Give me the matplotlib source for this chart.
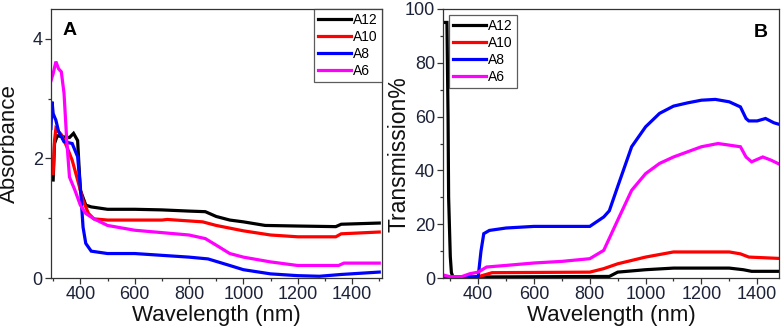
import matplotlib
matplotlib.use("Agg")
import matplotlib.pyplot as plt
from matplotlib.ticker import MultipleLocator

plt.rcParams['font.family'] = ['Liberation Sans', 'DejaVu Sans']

labels = ["A12", "A10", "A8", "A6"]
colors = ["#000000", "#ff0000", "#0000ff", "#ff00ff"]

# Panel A: absorbance
a12_x = [300, 305, 315, 340, 360, 375, 390, 400, 420, 440, 500, 600, 700, 800, 860, 900, 950, 1000, 1080, 1200, 1340, 1360, 1500]
a12_y = [1.64, 2.25, 2.38, 2.36, 2.35, 2.42, 2.3, 1.47, 1.22, 1.19, 1.15, 1.15, 1.14, 1.12, 1.11, 1.03, 0.97, 0.94, 0.88, 0.87, 0.86, 0.9, 0.92]
a10_x = [300, 305, 310, 330, 350, 370, 390, 410, 430, 450, 500, 700, 720, 850, 900, 1000, 1100, 1200, 1340, 1360, 1500]
a10_y = [1.75, 2.3, 2.5, 2.4, 2.2, 1.97, 1.64, 1.3, 1.08, 0.99, 0.97, 0.97, 0.98, 0.94, 0.88, 0.79, 0.72, 0.69, 0.69, 0.74, 0.77]
a8_x = [292, 296, 300, 310, 320, 340, 370, 390, 400, 410, 420, 440, 500, 600, 800, 870, 950, 1000, 1100, 1200, 1280, 1360, 1500]
a8_y = [2.5, 2.95, 2.75, 2.64, 2.45, 2.28, 2.25, 2.03, 1.53, 0.85, 0.58, 0.45, 0.41, 0.41, 0.35, 0.32, 0.21, 0.14, 0.07, 0.04, 0.03, 0.06, 0.1]
a6_x = [292, 300, 310, 320, 330, 340, 350, 360, 380, 400, 420, 450, 500, 600, 800, 860, 900, 950, 1000, 1100, 1200, 1350, 1370, 1500]
a6_y = [3.3, 3.42, 3.62, 3.5, 3.45, 3.09, 2.3, 1.69, 1.47, 1.22, 1.08, 0.99, 0.88, 0.8, 0.72, 0.66, 0.55, 0.41, 0.35, 0.27, 0.21, 0.21, 0.25, 0.25]

# Panel B: transmission
b12_x = [280, 288, 292, 294, 300, 304, 310, 400, 870, 900, 1000, 1100, 1300, 1350, 1380, 1500]
b12_y = [95, 95, 60, 30, 8, 2, 0.3, 0.4, 0.6, 2.2, 3.1, 3.7, 3.7, 3.1, 2.5, 2.5]
b10_x = [280, 300, 400, 450, 800, 850, 900, 1000, 1100, 1300, 1340, 1370, 1500]
b10_y = [0.5, 0.3, 0.5, 2.0, 2.2, 3.5, 5.3, 7.8, 9.7, 9.7, 9.0, 7.8, 7.2]
b8_x = [280, 300, 400, 410, 420, 440, 500, 600, 800, 850, 870, 900, 950, 1000, 1050, 1100, 1150, 1200, 1250, 1300, 1340, 1360, 1370, 1400, 1430, 1460, 1500]
b8_y = [0.5, 0.2, 0.5, 10, 16.5, 17.7, 18.6, 19.2, 19.2, 22.7, 25, 34, 48.8, 56.2, 61.2, 63.9, 65.1, 66.1, 66.4, 65.5, 63.6, 59.3, 58.4, 58.4, 59.3, 57.7, 56.5]
b6_x = [280, 300, 340, 370, 400, 430, 500, 600, 700, 800, 850, 900, 950, 1000, 1050, 1100, 1150, 1200, 1260, 1300, 1340, 1360, 1380, 1420, 1450, 1500]
b6_y = [1.0, 0.5, 0.5, 1.6, 2.2, 4.1, 4.7, 5.6, 6.2, 7.2, 10.3, 21.5, 32.6, 38.8, 42.6, 45, 46.9, 48.8, 50, 49.4, 48.8, 45, 43.2, 45, 43.8, 41.3]

fig = plt.figure(figsize=(7.82, 3.33), dpi=100)
axA = fig.add_axes([0.0652, 0.165, 0.4236, 0.808])
axB = fig.add_axes([0.5669, 0.165, 0.4299, 0.808])

tick_color = "#1c2238"
spine_color = "#333333"

def style(ax):
    for s in ax.spines.values():
        s.set_color(spine_color)
        s.set_linewidth(0.9)
    ax.tick_params(which='major', direction='out', length=4, width=0.9, color=spine_color,
                   labelsize=13, labelcolor=tick_color, pad=2)
    ax.tick_params(which='minor', direction='out', length=2.5, width=0.9, color=spine_color)
    ax.tick_params(top=False, right=False, which='both')
    ax.xaxis.set_major_locator(MultipleLocator(200))
    ax.xaxis.set_minor_locator(MultipleLocator(100))
    ax.set_xlabel("Wavelength (nm)", fontsize=16, color="#111111", labelpad=1)

for x, y, c, l in zip([a12_x, a10_x, a8_x, a6_x], [a12_y, a10_y, a8_y, a6_y], colors, labels):
    axA.plot(x, y, color=c, lw=2.3, label=l, solid_joinstyle='miter')
axA.set_xlim(292, 1511)
axA.set_ylim(0, 4.5)
style(axA)
axA.yaxis.set_major_locator(MultipleLocator(2))
axA.yaxis.set_minor_locator(MultipleLocator(1))
axA.set_ylabel("Absorbance", fontsize=16, color="#111111")
axA.yaxis.set_label_coords(-0.094, 0.5)
axA.text(0.036, 0.95, "A", transform=axA.transAxes, fontsize=14, fontweight='bold', va='top', ha='left')
legA = axA.legend(loc='upper right', fontsize=10, frameon=True, fancybox=False, edgecolor=spine_color,
                  borderaxespad=0, handlelength=2.4, handletextpad=0.15, labelspacing=0.22,
                  borderpad=0.3)
legA.get_frame().set_linewidth(0.9)

for x, y, c, l in zip([b12_x, b10_x, b8_x, b6_x], [b12_y, b10_y, b8_y, b6_y], colors, labels):
    axB.plot(x, y, color=c, lw=2.3, label=l, solid_joinstyle='miter')
axB.set_xlim(275, 1480)
axB.set_ylim(0, 100)
style(axB)
axB.yaxis.set_major_locator(MultipleLocator(20))
axB.yaxis.set_minor_locator(MultipleLocator(10))
axB.set_ylabel("Transmission%", fontsize=16.5, color="#111111")
axB.yaxis.set_label_coords(-0.099, 0.46)
axB.text(0.964, 0.945, "B", transform=axB.transAxes, fontsize=14, fontweight='bold', va='top', ha='right')
legB = axB.legend(loc='upper left', fontsize=10, frameon=True, fancybox=False, edgecolor=spine_color,
                  borderaxespad=0.4, handlelength=2.4, handletextpad=0.15, labelspacing=0.22,
                  borderpad=0.3)
legB.get_frame().set_linewidth(0.9)

fig.savefig("out.png", dpi=100)
